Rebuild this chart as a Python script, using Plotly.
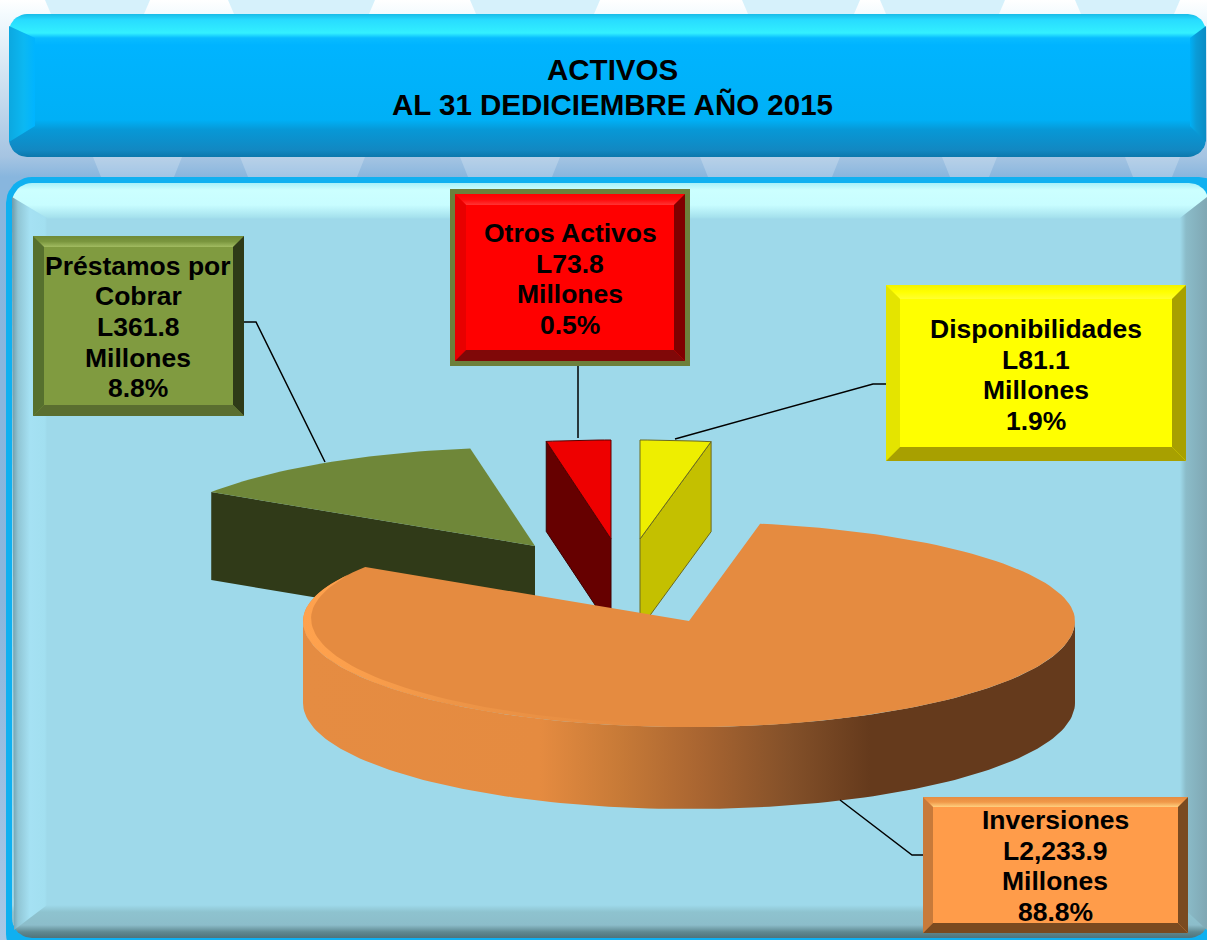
import math
import plotly.graph_objects as go

# ---------- data ----------
categories = ["Disponibilidades", "Inversiones", "Préstamos por Cobrar", "Otros Activos"]
amounts = [81.1, 2233.9, 361.8, 73.8]
percent_labels = ["1.9%", "88.8%", "8.8%", "0.5%"]
title_lines = ["ACTIVOS", "AL 31 DEDICIEMBRE AÑO 2015"]
unit = "Millones"

FONT = "Liberation Sans, Arial, sans-serif"
fig = go.Figure()


def poly(xs, ys, color=None, grad=None, line=None, lw=0):
    kw = {}
    if grad:
        typ, start, stop, stops = grad
        span = stop - start
        kw["fillgradient"] = dict(type=typ, start=start, stop=stop,
                                  colorscale=[[(p - start) / span, c] for p, c in stops])
    else:
        kw["fillcolor"] = color
    fig.add_trace(go.Scatter(
        x=list(xs) + [xs[0]], y=list(ys) + [ys[0]], mode="lines", fill="toself",
        line=dict(width=lw, color=line or "rgba(0,0,0,0)"),
        hoverinfo="skip", showlegend=False, **kw))


def rrect(x0, y0, x1, y1, r, n=10):
    xs, ys = [], []
    for cx, cy, a0 in ((x1 - r, y0 + r, -90), (x1 - r, y1 - r, 0), (x0 + r, y1 - r, 90), (x0 + r, y0 + r, 180)):
        for i in range(n + 1):
            a = math.radians(a0 + 90 * i / n)
            xs.append(cx + r * math.cos(a))
            ys.append(cy + r * math.sin(a))
    return xs, ys


def seg(x, y, width=1.5, color="#000000"):
    fig.add_trace(go.Scatter(x=x, y=y, mode="lines", line=dict(width=width, color=color),
                             hoverinfo="skip", showlegend=False))


# ---------- background ----------
poly([0, 1207, 1207, 0], [0, 0, 940, 940], grad=("vertical", 0, 940, [
    (0, "#ffffff"), (14, "#f4fbfe"), (157, "#a5c4e2"), (177, "#88b6de"), (600, "#8ab6dc"), (940, "#a9c8e6")]))
for a, b in ((45, 150), (228, 375), (470, 600), (742, 860), (880, 1005), (1075, 1180)):
    poly([a, b, b - 6, a + 6], [0, 0, 14, 14], color="#d6f1fb")
for a, b in ((93, 182), (240, 365), (460, 560), (700, 840), (942, 997), (1125, 1180)):
    poly([a, b, b - 8, a + 8], [157, 157, 177, 177], color="rgba(255,255,255,0.22)")

# ---------- title panel ----------
xs, ys = rrect(9, 14, 1206, 157, 18)
poly(xs, ys, grad=("vertical", 14, 157, [
    (14, "#18bce8"), (20, "#28dcff"), (33, "#33f0ff"), (38, "#08bcff"), (45, "#00b4ff"),
    (120, "#00b0f6"), (130, "#0798d6"), (150, "#1288c2"), (157, "#0c78ac")]))
poly([9, 35, 35, 9], [26, 38, 126, 142], grad=("horizontal", 9, 35, [
    (9, "#0ca8e0"), (24, "#0cb8f2"), (35, "#00b4ff")]))
poly([1206, 1190, 1190, 1206], [26, 38, 126, 142], grad=("horizontal", 1190, 1206, [
    (1190, "#00b0f6"), (1196, "#0a9cd8"), (1206, "#0a8cc4")]))

# ---------- main panel ----------
xs, ys = rrect(6, 177, 1225, 960, 26)
poly(xs, ys, color="#10b0f0")
xs, ys = rrect(12, 183, 1209, 938, 20)
poly(xs, ys, grad=("vertical", 183, 938, [
    (183, "#a8f0f8"), (190, "#ccffff"), (205, "#c8fdff"), (217, "#a6e2ee"), (219, "#9ed9ea"),
    (905, "#9ed9ea"), (912, "#8ec3cf"), (925, "#8cbdca"), (932, "#5f8890"), (938, "#50737a")]))
poly([12, 47, 47, 14], [197, 218, 905, 930], grad=("horizontal", 12, 47, [
    (12, "#6f9aa8"), (18, "#90c5d4"), (30, "#a5e1f3"), (45, "#a2dff0"), (47, "#9ed9ea")]))
poly([1207, 1180, 1180, 1207], [197, 218, 905, 930], grad=("horizontal", 1180, 1207, [
    (1180, "#9ed9ea"), (1186, "#8bbcc9"), (1207, "#7fa7b3")]))

# ---------- exploded 3D pie, angles computed from the values ----------
RX, RY_BACK, RY_FRONT = 386, 99, 106
tips = [(640, 539), (689, 621), (535, 546), (611, 539)]
depths = [90, 82, 88, 90]
total = sum(amounts)
angles = [0]
for v in amounts:
    angles.append(angles[-1] + v / total * 360)


def rim(tip, deg, k=1.0):
    a = math.radians(deg)
    c = math.cos(a)
    ry = RY_BACK if c > 0 else RY_FRONT
    return tip[0] + k * RX * math.sin(a), tip[1] - k * ry * c


def arc(tip, a0, a1, n=90, k=1.0):
    pts = [rim(tip, a0 + (a1 - a0) * i / n, k) for i in range(n + 1)]
    return [p[0] for p in pts], [p[1] for p in pts]


# green slice
i = 2
t, d = tips[i], depths[i]
cx, cy = rim(t, angles[i])
poly([cx, t[0], t[0], cx], [cy, t[1], t[1] + d, cy + d], color="#303A18")
ax, ay = arc(t, angles[i], angles[i + 1], 30)
poly([t[0]] + ax, [t[1]] + ay, color="#6F8739")

# red slice
i = 3
t, d = tips[i], depths[i]
cx, cy = rim(t, angles[i])
poly([cx, t[0], t[0], cx], [cy, t[1], t[1] + d, cy + d], color="#660000", line="#3a0000", lw=1)
ax, ay = arc(t, angles[i], angles[i + 1], 10)
poly([t[0]] + ax, [t[1]] + ay, color="#EE0000", line="#5a0000", lw=1)

# yellow slice
i = 0
t, d = tips[i], depths[i]
cx, cy = rim(t, angles[i + 1])
poly([cx, t[0], t[0], cx], [cy, t[1], t[1] + d, cy + d], color="#C4C000", line="#6b6a20", lw=1)
ax, ay = arc(t, angles[i], angles[i + 1], 10)
poly([t[0]] + ax, [t[1]] + ay, color="#EEEE00", line="#6b6a20", lw=1)

# orange slice
i = 1
t, d = tips[i], depths[i]
fx, fy = arc(t, 90, 270, 120)
poly(fx + fx[::-1], fy + [y + d for y in fy[::-1]], grad=("horizontal", t[0] - RX, t[0] + RX, [
    (303, "#E58C42"), (540, "#E58B40"), (620, "#C77A37"), (700, "#A96531"),
    (790, "#835029"), (870, "#653A1C"), (1075, "#653A1C")]))
ax, ay = arc(t, angles[i], angles[i + 1], 160)
poly([t[0]] + ax, [t[1]] + ay, color="#E58B40")
# soft lighter rim on the left of the top face
rim_end = angles[i + 1] - 5
steps = 80
ox, oy = arc(t, 150, rim_end, steps)
ix, iy = [], []
for j in range(steps + 1):
    s = j / steps
    p = rim(t, 150 + (rim_end - 150) * s, 1 - 0.032 * math.sin(math.pi * s) ** 0.7)
    ix.append(p[0])
    iy.append(p[1])
poly(ox + ix[::-1], oy + iy[::-1], grad=("horizontal", 303, 640, [
    (303, "#FFA24E"), (350, "#FB9F4C"), (450, "#EE9547"), (640, "#E58B40")]))

# leader lines
seg([244, 256, 325], [322, 322, 462])
seg([578, 578], [366, 438])
seg([886, 873, 675], [384, 384, 439])
seg([840, 912, 923], [800, 855, 855])


# ---------- label boxes ----------
def box(x0, y0, x1, y1, b, body, top, left, right, bottom):
    poly([x0, x1, x1, x0], [y0, y0, y1, y1], color=body)
    poly([x0, x1, x1 - b, x0 + b], [y0, y0, y0 + b, y0 + b],
         grad=("vertical", y0, y0 + b, [(y0 + i * b / (len(top) - 1), c) for i, c in enumerate(top)]))
    poly([x0, x0 + b, x0 + b, x0], [y0, y0 + b, y1 - b, y1], color=left)
    poly([x1, x1 - b, x1 - b, x1], [y0, y0 + b, y1 - b, y1], color=right)
    poly([x0, x1, x1 - b, x0 + b], [y1, y1, y1 - b, y1 - b], color=bottom)


box(33, 236, 244, 416, 11, "#809B40", ["#6F8A38", "#7A963E", "#A2BC62"], "#56702E", "#2E3A18", "#5A6E30")
poly([450, 690, 690, 450], [189, 189, 366, 366], color="#6D7F3B")
box(455, 194, 685, 361, 11, "#FF0000", ["#FF0000", "#FF0A0A", "#FF3434"], "#E80000", "#800000", "#800808")
box(886, 285, 1186, 461, 14, "#FFFF00", ["#F2F200", "#FFFF00", "#FFFF30"], "#E4E400", "#A8A000", "#A8A000")
box(923, 797, 1188, 933, 10, "#FF9C4A", ["#E58C42", "#F09848", "#FFD080"], "#C87A3A", "#7A4A20", "#7A4A20")

# ---------- text (one annotation per line: the reference's leading is tighter than Plotly's) ----------
label_pos = [(1036, 375), (1055, 866), (138, 327), (570, 279)]
wrapped = [["Disponibilidades"], ["Inversiones"], ["Préstamos por", "Cobrar"], ["Otros Activos"]]
LINE_STEP = 30.7
annotations = []
for name, v, pct, (x, y) in zip(wrapped, amounts, percent_labels, label_pos):
    lines = name + [f"L{v:,.1f}", unit, pct]
    for n, txt in enumerate(lines):
        annotations.append(dict(
            x=x, y=y + (n - (len(lines) - 1) / 2) * LINE_STEP, xref="x", yref="y", showarrow=False,
            text=f"<b>{txt}</b>", font=dict(family=FONT, size=26.5, color="#000000")))
for n, txt in enumerate(title_lines):
    annotations.append(dict(
        x=612, y=69 + n * 35, xref="x", yref="y", showarrow=False,
        text=f"<b>{txt}</b>", font=dict(family=FONT, size=29.5, color="#000000")))

fig.update_layout(
    width=1207, height=940, margin=dict(l=0, r=0, t=0, b=0),
    paper_bgcolor="#ffffff", plot_bgcolor="#ffffff", showlegend=False,
    xaxis=dict(range=[0, 1207], visible=False, fixedrange=True),
    yaxis=dict(range=[940, 0], visible=False, fixedrange=True),
    annotations=annotations,
)
fig.write_html("out.html", config={"displayModeBar": False},
               post_script="document.body.style.margin='0';document.body.style.overflow='hidden';")
